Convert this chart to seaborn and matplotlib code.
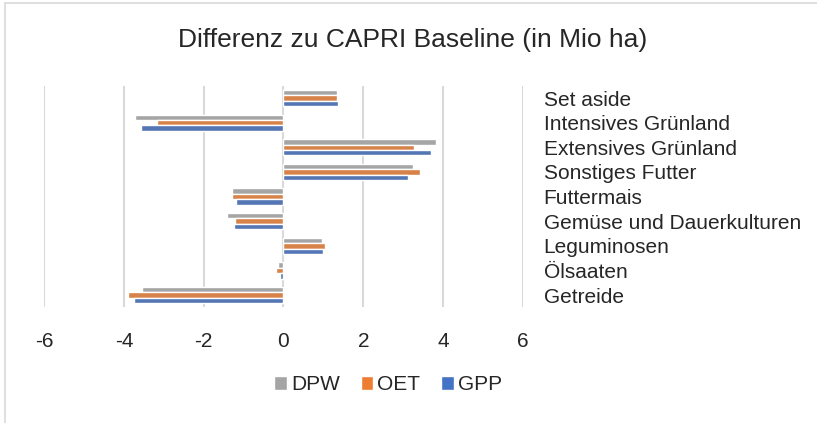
import numpy as np
import pandas as pd
import matplotlib
matplotlib.use("Agg")
import matplotlib.pyplot as plt
import seaborn as sns
from matplotlib.patches import Patch, Rectangle

categories = ["Set aside", "Intensives Grünland", "Extensives Grünland",
              "Sonstiges Futter", "Futtermais", "Gemüse und Dauerkulturen",
              "Leguminosen", "Ölsaaten", "Getreide"]
dpw = [1.33, -3.72, 3.83, 3.24, -1.28, -1.41, 0.97, -0.13, -3.54]
oet = [1.33, -3.17, 3.26, 3.41, -1.28, -1.21, 1.03, -0.20, -3.90]
gpp = [1.36, -3.58, 3.70, 3.13, -1.20, -1.24, 0.98, -0.10, -3.74]
series = ["DPW", "OET", "GPP"]
colors = ["#A5A5A5", "#ED7D31", "#4472C4"]

df = pd.DataFrame({
    "Kategorie": categories * 3,
    "Wert": dpw + oet + gpp,
    "Szenario": [s for s in series for _ in categories],
})

sns.set_style("white")
plt.rcParams["font.family"] = ["Liberation Sans", "DejaVu Sans"]
plt.rcParams["axes.unicode_minus"] = False

fig = plt.figure(figsize=(8.17, 4.23), dpi=100)
ax = fig.add_axes([0.054, 0.2735, 0.586, 0.5235])

sns.barplot(data=df, x="Wert", y="Kategorie", hue="Szenario",
            order=categories, hue_order=series, palette=colors,
            orient="h", width=0.66, ax=ax, legend=False)

ax.set_xlim(-6, 6)
ax.set_xticks(np.arange(-6, 7, 2))
ax.grid(axis="x", color="#d9d9d9", linewidth=1.5)
ax.set_axisbelow(True)
for s in ax.spines.values():
    s.set_visible(False)
ax.set_xlabel("")
ax.set_ylabel("")
ax.yaxis.tick_right()
ax.tick_params(axis="y", length=0, pad=15, labelsize=15)
ax.tick_params(axis="x", length=0, pad=18, labelsize=15)

fig.text(0.505, 0.905, "Differenz zu CAPRI Baseline (in Mio ha)",
         ha="center", va="center", fontsize=19)

handles = [Patch(facecolor=c, label=s) for s, c in zip(series, colors)]
fig.legend(handles=handles, loc="center", bbox_to_anchor=(0.475, 0.09),
           ncol=3, frameon=False, fontsize=15, handlelength=0.6,
           handleheight=0.6, handletextpad=0.2, columnspacing=1.0)

fig.patches.append(Rectangle((5 / 817, -0.1), 1.2, 1 - 3 / 423 + 0.1,
                             transform=fig.transFigure, fill=False,
                             edgecolor="#d9d9d9", linewidth=1.2))

fig.savefig("out.png", dpi=100)
